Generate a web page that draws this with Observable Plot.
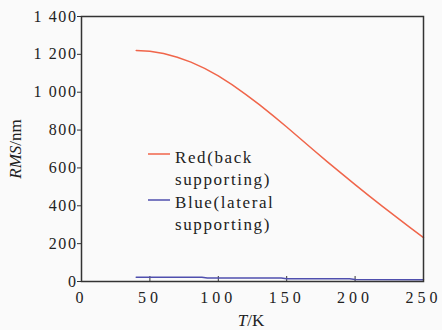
<!DOCTYPE html>
<html><head><meta charset="utf-8">
<script src="https://cdn.jsdelivr.net/npm/d3@7"></script>
<script src="https://cdn.jsdelivr.net/npm/@observablehq/plot@0.6"></script>
<style>body{margin:0;background:#fff}</style>
</head><body><div id="chart"></div>
<script>
const temps = [40,50,60,70,80,90,100,110,120,130,140,150,160,170,180,190,200,210,220,230,240,250];
const redValues = [1220,1216,1204,1185,1159,1126,1086,1040,989,934,876,816,754,692,631,571,512,454,397,341,286,232];
const blueTemps = [40,88,92,146,150,196,200,250];
const blueValues = [22,22,18,18,14,14,10,9];
const xTicks = [0,50,100,150,200,250];
const yTicks = [0,200,400,600,800,1000,1200,1400];
const legendLines = [["Red(back","supporting)"],["Blue(lateral","supporting)"]];
const colors = ["#f0654a","#4f4fae"];

const fmtY = d => d >= 1000 ? `${Math.floor(d/1000)} ${String(d%1000).padStart(3,"0")}` : String(d);
const redData = temps.map((t,i)=>({t, v: redValues[i]}));
const blueData = blueTemps.map((t,i)=>({t, v: blueValues[i]}));

const chart = Plot.plot({
  width: 442, height: 330,
  marginLeft: 81, marginTop: 16, marginRight: 19, marginBottom: 49,
  style: {fontSize: "16px", color: "#222", background: "#fafafa"},
  x: {domain: [0,250]},
  y: {domain: [0,1400]},
  marks: [
    Plot.ruleX(xTicks.slice(1,-1), {x: d=>d, insetTop: 260, stroke:"#333"}),
    Plot.axisX({ticks: xTicks, tickSize: 0, tickPadding: 10, label: null}),
    Plot.axisY({ticks: yTicks, tickSize: 4, tickPadding: 0, tickFormat: fmtY, label: null, stroke: "#333"}),
    Plot.line(redData, {x:"t", y:"v", stroke: colors[0], strokeWidth: 1.5}),
    Plot.line(blueData, {x:"t", y:"v", stroke: colors[1], strokeWidth: 1.5}),
    Plot.frame({stroke: "#333", strokeWidth: 1.5})
  ]
});
document.getElementById("chart").append(chart);
const svg = d3.select(chart);
svg.select('g[aria-label="x-axis tick label"]').attr("letter-spacing", 4);
svg.select('g[aria-label="y-axis tick label"]').attr("letter-spacing", 1.6);

// Y label
const yl = svg.append("text").attr("transform","translate(21,149) rotate(-90)")
  .attr("text-anchor","middle").attr("font-size",17).attr("fill","#222");
yl.append("tspan").attr("font-style","italic").text("RMS");
yl.append("tspan").text("/nm");
// X label
const xl = svg.append("text").attr("x",251).attr("y",326)
  .attr("text-anchor","middle").attr("font-size",17).attr("fill","#222");
xl.append("tspan").attr("font-style","italic").text("T");
xl.append("tspan").text("/K");

// Legend
const lg = svg.append("g").attr("font-size",17).attr("fill","#222")
  .attr("letter-spacing",1.6).attr("text-anchor","start");
const lineYs = [154, 200];
const baseYs = [[163,185],[208,230]];
legendLines.forEach((lines,i)=>{
  lg.append("line").attr("x1",148).attr("x2",170).attr("y1",lineYs[i]).attr("y2",lineYs[i])
    .attr("stroke",colors[i]).attr("stroke-width",1.5);
  lines.forEach((s,j)=>{
    lg.append("text").attr("x",175).attr("y",baseYs[i][j]).text(s);
  });
});
svg.selectAll("text").attr("font-family","Liberation Serif");
</script>
</body></html>
